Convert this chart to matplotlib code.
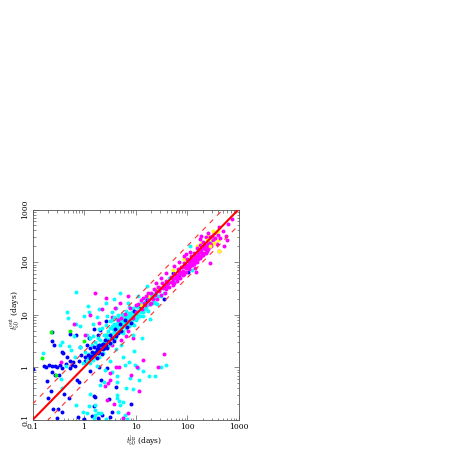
import numpy as np
import matplotlib
matplotlib.use('Agg')
import matplotlib.pyplot as plt

plt.rcParams['font.family'] = 'DejaVu Serif'
plt.rcParams['mathtext.fontset'] = 'cm'

# log10(t_in), log10(t_out)
cyan = np.array([
 (-0.16,1.43),(-0.33,1.05),(-0.31,0.94),(-0.16,0.82),(-0.08,0.79),(0.08,1.17),(0.1,1.05),(0.0,0.98),
 (0.17,0.83),(-0.8,0.27),(-0.43,0.48),(-0.46,0.42),(-0.29,0.41),(-0.25,0.33),(-0.08,0.39),(0.05,0.62),
 (-0.2,0.6),(-0.35,0.02),(-0.45,-0.22),(-0.42,-0.4),(-0.18,0.2),(-0.02,0.08),(0.12,0.55),(0.25,0.95),
 (0.3,1.1),(0.42,1.22),(0.58,1.3),(0.62,1.12),(0.45,0.98),(0.7,1.42),(0.35,0.75),
 (0.76,0.2),(0.87,0.1),(0.8,0.05),(0.99,0.05),(1.04,-0.02),(1.15,-0.07),(1.38,-0.16),(1.27,-0.16),
 (1.59,0.05),(1.5,0.0),(1.07,-0.24),(0.95,-0.41),(0.81,-0.39),(0.64,-0.16),(0.64,-0.28),(0.55,-0.08),
 (0.31,-0.33),(0.38,-0.28),(0.12,-0.5),(0.64,-0.52),(0.64,-0.58),(0.68,-0.63),(0.76,-0.66),(0.7,-0.72),
 (0.21,-0.81),(0.21,-0.72),(0.21,-0.9),(0.1,-0.74),(0.06,-0.87),(0.33,-0.87),(0.28,-0.86),(0.66,-0.85),
 (0.8,-0.9),(0.84,-0.98),(0.75,-0.96),(0.42,-0.98),(0.2,-0.97),(-0.15,-0.72),(-0.02,-0.85),
 (0.9,-0.2),(0.4,-0.05),(0.5,0.12),(0.25,0.02),(0.62,0.35),(0.72,0.42),(1.12,0.55),(0.98,0.32),
])
cyan_band = np.array([
 (0.02,0.3),(0.1,0.25),(0.15,0.42),(0.22,0.48),(0.28,0.55),(0.18,0.6),(0.3,0.72),(0.34,0.45),
 (0.38,0.62),(0.42,0.55),(0.42,0.8),(0.46,0.7),(0.5,0.62),(0.5,0.88),(0.54,0.78),(0.58,0.68),
 (0.58,0.95),(0.62,0.82),(0.66,0.72),(0.66,1.0),(0.7,0.88),(0.72,0.78),(0.74,1.02),(0.78,0.9),
 (0.8,0.8),(0.82,1.08),(0.85,0.95),(0.86,0.82),(0.9,1.02),(0.92,0.88),(0.95,1.12),(0.97,0.98),
 (1.0,0.9),(1.02,1.08),(1.05,1.0),(1.08,1.18),(1.1,1.05),(1.14,0.98),(1.18,1.25),(1.2,1.12),
 (1.25,1.2),(1.3,1.35),(1.35,1.25),(1.4,1.42),(1.42,1.2),(1.5,1.5),(1.55,1.42),(1.22,1.55),
 (1.05,1.36),(0.85,1.22),(0.95,0.62),(1.28,0.92),(2.05,2.3),(2.35,2.25),(2.1,1.85),(1.75,1.62),
 (1.65,1.7),(2.45,2.4),(2.2,2.1),(0.98,0.8),(0.88,1.15),(0.75,0.65),(0.6,0.55),(0.55,1.05),
 (0.05,0.12),(0.08,0.18),(0.12,0.08),(0.16,0.28),(0.18,0.14),(0.2,0.3),(0.24,0.2),(0.26,0.42),
 (0.28,0.32),(0.3,0.2),(0.32,0.52),(0.34,0.36),(0.36,0.28),(0.38,0.48),(0.4,0.36),(0.44,0.48),
 (0.44,0.62),(0.46,0.4),(0.48,0.54),(0.5,0.74),(0.52,0.46),(0.52,0.64),(0.54,0.9),(0.56,0.56),
 (0.56,0.72),(0.58,0.82),(0.6,0.62),(0.6,0.76),(0.62,0.92),(0.64,0.66),(0.64,0.78),(0.66,0.86),
 (0.68,0.72),(0.68,0.94),(0.7,0.8),(0.7,0.68),(0.72,0.9),(0.74,0.76),(0.74,0.84),(0.76,0.98),
 (0.76,0.7),(0.78,0.82),(0.8,0.96),(0.8,0.88),(0.82,0.74),(0.84,0.86),(0.84,1.0),(0.86,0.92),
 (0.88,0.78),(0.88,1.04),(0.9,0.9),(0.92,0.98),(0.94,0.84),(0.94,1.06),(0.96,0.92),(0.98,1.04),
 (1.0,1.16),(1.0,0.98),(1.03,0.94),(1.04,1.14),(1.06,1.08),(1.08,0.98),(1.1,1.22),(1.12,1.12),
 (1.14,1.06),(1.16,1.2),(1.18,1.1),(1.2,1.3),(1.22,1.18),(1.24,1.08),(1.26,1.3),(1.28,1.2),
 (1.32,1.22),(1.34,1.4),(1.36,1.32),(1.38,1.22),(1.44,1.36),(1.46,1.48),(1.5,1.36),(1.6,1.56),
])
magenta = np.array([
 (1.55,0.25),(1.15,0.14),(1.03,0.0),(1.44,0.0),(0.91,-0.14),(1.07,-0.45),(0.58,-0.69),(0.45,-0.62),
 (0.85,-0.87),(0.62,0.0),(0.68,0.0),(0.5,-0.24),(0.5,-0.1),(0.41,-0.35),(0.47,-0.3),(0.75,-0.96),
 (0.02,0.62),(0.12,1.0),(0.34,1.1),(0.3,0.85),(0.6,1.12),(0.7,1.22),(0.55,0.95),(0.95,0.55),
 (0.72,0.52),(0.82,0.6),(0.55,0.42),(-0.45,0.1),(-0.2,0.82),(0.22,1.42),(0.42,1.32),(0.85,1.35),
 (2.45,1.98),(2.18,1.82),(2.8,2.72),(2.88,2.82),(2.62,2.22),(2.72,2.3),
])
magenta_band = np.array([
 (1.0,1.18),(1.0,1.05),(1.05,1.2),(1.1,1.28),(1.12,1.1),(1.15,1.32),(1.18,1.18),(1.2,1.36),
 (1.24,1.28),(1.28,1.2),(1.3,1.42),(1.32,1.32),(1.36,1.48),(1.38,1.38),(1.42,1.3),(1.44,1.52),
 (1.46,1.45),(1.5,1.38),(1.52,1.6),(1.54,1.5),(1.58,1.42),(1.6,1.64),(1.62,1.55),(1.66,1.52),
 (1.68,1.72),(1.7,1.62),(1.72,1.56),(1.75,1.78),(1.77,1.7),(1.8,1.64),(1.82,1.86),(1.84,1.78),
 (1.86,1.7),(1.88,1.9),(1.9,1.82),(1.92,1.76),(1.94,1.98),(1.96,1.9),(1.98,1.82),(2.0,2.05),
 (2.02,1.95),(2.04,1.86),(2.06,2.02),(2.08,2.12),(2.1,1.94),(2.12,2.06),(2.14,2.18),(2.16,2.0),
 (2.18,2.12),(2.2,2.26),(2.22,2.06),(2.24,2.2),(2.26,2.32),(2.28,2.12),(2.3,2.26),(2.32,2.38),
 (2.34,2.18),(2.36,2.32),(2.38,2.22),(2.4,2.38),(2.42,2.28),(2.45,2.48),(2.46,2.35),(2.5,2.42),
 (2.52,2.56),(2.55,2.46),(2.58,2.35),(2.6,2.52),(2.62,2.66),(2.65,2.45),(2.7,2.6),(2.75,2.5),
 (2.78,2.42),(2.4,2.56),(2.28,2.5),(2.05,2.2),(1.95,2.12),(1.75,1.92),(1.6,1.8),(1.85,2.0),
 (1.5,1.7),(1.4,1.6),(2.15,1.88),(1.98,2.16),(2.25,2.44),(2.36,2.48),
 (1.56,1.56),(1.6,1.48),(1.64,1.6),(1.68,1.62),(1.72,1.68),(1.74,1.6),(1.78,1.76),(1.8,1.72),
 (1.83,1.7),(1.85,1.84),(1.87,1.78),(1.9,1.9),(1.92,1.84),(1.95,1.78),(1.97,1.96),(1.99,1.88),
 (2.01,1.9),(2.03,2.0),(2.05,1.92),(2.07,1.98),(2.09,2.04),(2.11,2.0),(2.13,1.96),(2.15,2.1),
 (2.17,2.06),(2.19,2.0),(2.21,2.16),(2.23,2.12),(2.25,2.08),(2.27,2.22),(2.29,2.18),(2.31,2.14),
 (2.33,2.3),(2.35,2.24),(2.37,2.18),(2.39,2.3),(2.41,2.24),(2.43,2.36),(2.47,2.3),(2.49,2.5),
 (1.3,1.22),(1.34,1.3),(1.4,1.46),(1.48,1.5),(1.25,1.42),(1.16,1.22),
 (0.8,1.02),(0.9,1.12),(0.72,0.94),(0.96,0.94),(0.86,0.7),(0.66,0.9),
])
blue = np.array([
 (-0.99,-0.03),(-0.77,0.02),(-0.73,0.0),(-0.68,0.05),(-0.63,-0.08),(-0.62,0.03),(-0.56,0.03),(-0.52,0.0),
 (-0.47,0.05),(-0.43,-0.02),(-0.56,-0.14),(-0.72,-0.26),(-0.7,-0.58),(-0.6,-0.79),(-0.5,-0.79),(-0.52,-0.96),
 (-0.27,0.63),(-0.15,0.62),(-0.43,0.29),(-0.4,0.27),(-0.33,0.2),(-0.23,0.05),(-0.18,0.02),(-0.27,-0.02),
 (-0.14,-0.24),(-0.1,-0.27),(0.21,-0.56),(0.2,-0.73),(0.31,0.71),(-0.08,0.39),(0.12,0.37),(-0.62,0.5),
 (-0.58,0.42),(-0.35,0.06),(-0.28,0.12),(-0.22,0.1),(-0.05,0.24),(0.02,0.12),(-0.1,0.12),(-0.62,0.68),
 (-0.48,-0.15),(-0.38,-0.5),(-0.3,-0.58),(-0.65,-0.45),(-0.12,-0.95),(0.0,-0.98),(-0.42,-0.85),
 (0.12,-0.07),(0.33,-0.24),(0.62,-0.37),(0.19,-0.54),(0.49,-0.6),(0.91,-0.7),(0.35,-0.9),(0.5,-0.94),
 (0.54,-0.85),(0.27,-0.96),(0.16,-0.93),(0.3,0.0),(0.45,-0.02),
 (0.2,0.72),(0.1,0.55),(0.28,0.62),(0.42,0.88),(0.05,0.42),(1.55,1.3),(1.85,1.72),(2.02,1.82),
])
blue_band = np.array([
 (0.02,0.2),(0.08,0.24),(0.12,0.18),(0.15,0.3),(0.18,0.22),(0.2,0.38),(0.22,0.28),(0.25,0.18),
 (0.26,0.35),(0.28,0.28),(0.3,0.42),(0.32,0.34),(0.34,0.26),(0.36,0.44),(0.38,0.36),(0.4,0.52),
 (0.42,0.42),(0.44,0.36),(0.46,0.5),(0.5,0.46),(0.5,0.62),(0.54,0.55),(0.58,0.5),(0.6,0.72),
 (0.62,0.6),(0.66,0.66),(0.7,0.82),(0.72,0.7),(0.8,0.9),(0.84,0.76),(0.92,0.84),
 (0.98,1.08),(1.1,1.15),(1.22,1.28),(1.42,1.48),
 (1.6,1.52),(1.72,1.8),(0.14,0.22),(0.2,0.24),(0.24,0.3),(0.28,0.4),(0.3,0.3),(0.33,0.42),
 (0.36,0.34),(0.4,0.42),
])
yellow = np.array([
 (1.1,1.18),(1.25,1.35),(1.42,1.5),(1.72,1.85),(1.95,2.05),(2.2,2.3),(2.28,2.36),(2.35,2.25),
 (2.4,2.5),(2.5,2.48),(2.56,2.56),(2.6,2.42),(2.42,2.42),(2.3,2.12),
])
yellow_top = np.array([
 (2.45,2.3),(2.52,2.36),(2.62,2.22),(2.5,2.6),(2.6,2.6),(2.38,2.42),
])
green = np.array([
 (-0.64,0.67),(-0.82,0.18),(-0.54,-0.14),(0.0,0.5),(0.74,0.88),(0.42,0.62),(-0.28,0.7),
])

# drawing order, last on top
series = [(blue, '#0000ff'), (cyan, '#00ffff'), (green, '#00ff00'), (magenta, '#ff00ff'),
          (cyan_band, '#00ffff'), (blue_band, '#0000ff'), (yellow, '#ffff00'), (magenta_band, '#ff00ff'),
          (yellow_top, '#ffff00')]

fig = plt.figure(figsize=(4.63, 4.51), dpi=100)
ax = fig.add_axes([32.5/463, 1-420/451, 206/463, 210.5/451])

for pts, col in series:
    ax.scatter(10**pts[:, 0], 10**pts[:, 1], s=8, c=col, marker='o', linewidths=0, zorder=2)

lim = np.array([0.1, 1000])
ax.plot(lim, lim, color='#ff0000', lw=1.5, zorder=3)
ax.plot(lim, lim*2, color='#ff3030', lw=0.8, dashes=(4.5, 5), zorder=3)
ax.plot(lim, lim/2, color='#ff3030', lw=0.8, dashes=(4.5, 5), zorder=3)

ax.set_xscale('log')
ax.set_yscale('log')
ax.set_xlim(0.1, 1000)
ax.set_ylim(0.1, 1000)

ticks = [0.1, 1, 10, 100, 1000]
labels = ['0.1', '1', '10', '100', '1000']
ax.set_xticks(ticks)
ax.set_xticklabels(labels, fontsize=5.5)
ax.set_yticks(ticks)
ax.set_yticklabels(labels, fontsize=5.5, rotation=90, va='center')
ax.tick_params(which='major', direction='in', top=True, right=True, length=3.5, width=0.4, pad=2.5, color='#333333')
ax.tick_params(which='minor', direction='in', top=True, right=True, length=1.8, width=0.4, color='#333333')
for s in ax.spines.values():
    s.set_linewidth(0.6)
    s.set_color('#555555')

fig.text(144/463, 1-441/451, r'$t_{\rm 50}^{\rm in}$ (days)', fontsize=5.5, ha='center', va='center')
fig.text(15/463, 1-310/451, r'$t_{\rm 50}^{\rm out}$ (days)', fontsize=5.5, ha='center', va='center', rotation=90)

fig.savefig('out.png', dpi=100)
